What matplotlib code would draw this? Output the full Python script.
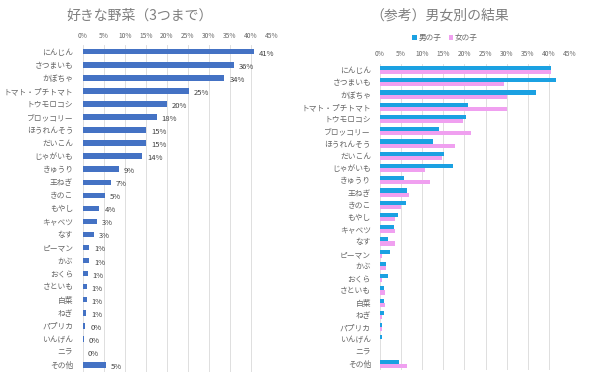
import matplotlib.pyplot as plt
import numpy as np

plt.rcParams["font.family"] = ["Noto Sans CJK JP", "DejaVu Sans"]

veg = ["にんじん", "さつまいも", "かぼちゃ", "トマト・プチトマト", "トウモロコシ", "ブロッコリー",
       "ほうれんそう", "だいこん", "じゃがいも", "きゅうり", "王ねぎ", "きのこ", "もやし",
       "キャベツ", "なす", "ピーマン", "かぶ", "おくら", "さといも", "白菜", "ねぎ",
       "パプリカ", "いんげん", "ニラ", "その他"]
total = [40.8, 35.9, 33.7, 25.3, 20.0, 17.6, 15.1, 15.1, 14.1, 8.6, 6.7, 5.3, 3.9,
         3.3, 2.6, 1.4, 1.4, 1.1, 0.9, 0.9, 0.8, 0.5, 0.2, 0.0, 5.4]
boys = [40.6, 41.7, 36.9, 20.9, 20.3, 14.0, 12.5, 15.2, 17.2, 5.6, 6.5, 6.1, 4.2,
        3.4, 1.9, 2.4, 1.4, 2.0, 0.9, 0.9, 0.9, 0.5, 0.5, 0.0, 4.6]
girls = [40.6, 29.4, 30.0, 30.0, 19.6, 21.5, 17.7, 14.6, 10.7, 11.8, 6.9, 4.9, 3.5,
         3.6, 3.5, 0.5, 1.5, 0.5, 1.1, 1.1, 0.5, 0.4, 0.0, 0.0, 6.5]
xticks = [0, 5, 10, 15, 20, 25, 30, 35, 40, 45]

W, H = 600, 381
text_c = "#666666"
grid_c = "#D9D9D9"

fig = plt.figure(figsize=(6, 3.81), dpi=100)


def style(ax, ypad):
    ax.set_xlim(0, 45)
    ax.set_ylim(len(veg) - 0.5, -0.5)
    ax.set_xticks(xticks)
    ax.set_xticklabels([f"{t}%" for t in xticks], fontsize=4.8, color=text_c)
    ax.xaxis.tick_top()
    ax.tick_params(axis="x", length=0, pad=4)
    ax.set_yticks(np.arange(len(veg)))
    ax.set_yticklabels(veg, fontsize=5.6, color=text_c)
    ax.tick_params(axis="y", length=0, pad=ypad)
    ax.grid(axis="x", color=grid_c, linewidth=0.6)
    ax.set_axisbelow(True)
    for s in ax.spines.values():
        s.set_visible(False)


# left: overall
ax1 = fig.add_axes([83 / W, 1 - 371.5 / H, (271.7 - 83) / W, (371.5 - 45.2) / H])
y = np.arange(len(veg))
ax1.barh(y, total, height=0.42, color="#4472C4")
for yi, v in zip(y, total):
    ax1.text(v + 1.2, yi + 0.15, f"{v:.0f}%", fontsize=5.5, color="#404040", va="center")
style(ax1, 7)
fig.text(140 / W, 1 - 16 / H, "好きな野菜（3つまで）", fontsize=10, color="#7F7F7F", ha="center", va="center")

# right: by gender
ax2 = fig.add_axes([380 / W, 1 - 370.1 / H, (570 - 380) / W, (370.1 - 63.9) / H])
h = 0.33
ax2.barh(y - h / 2, boys, height=h, color="#1BA1E2", label="男の子")
ax2.barh(y + h / 2, girls, height=h, color="#F0A0F0", label="女の子")
style(ax2, 6.5)
fig.text(440 / W, 1 - 16 / H, "（参考）男女別の結果", fontsize=10, color="#7F7F7F", ha="center", va="center")
fig.legend(*ax2.get_legend_handles_labels(), loc="center", bbox_to_anchor=(445 / W, 1 - 38 / H),
           ncol=2, frameon=False, fontsize=5.5, handlelength=0.6, handleheight=0.6,
           handletextpad=0.2, columnspacing=1.0, labelcolor=text_c)

fig.savefig("out.png", dpi=100)
